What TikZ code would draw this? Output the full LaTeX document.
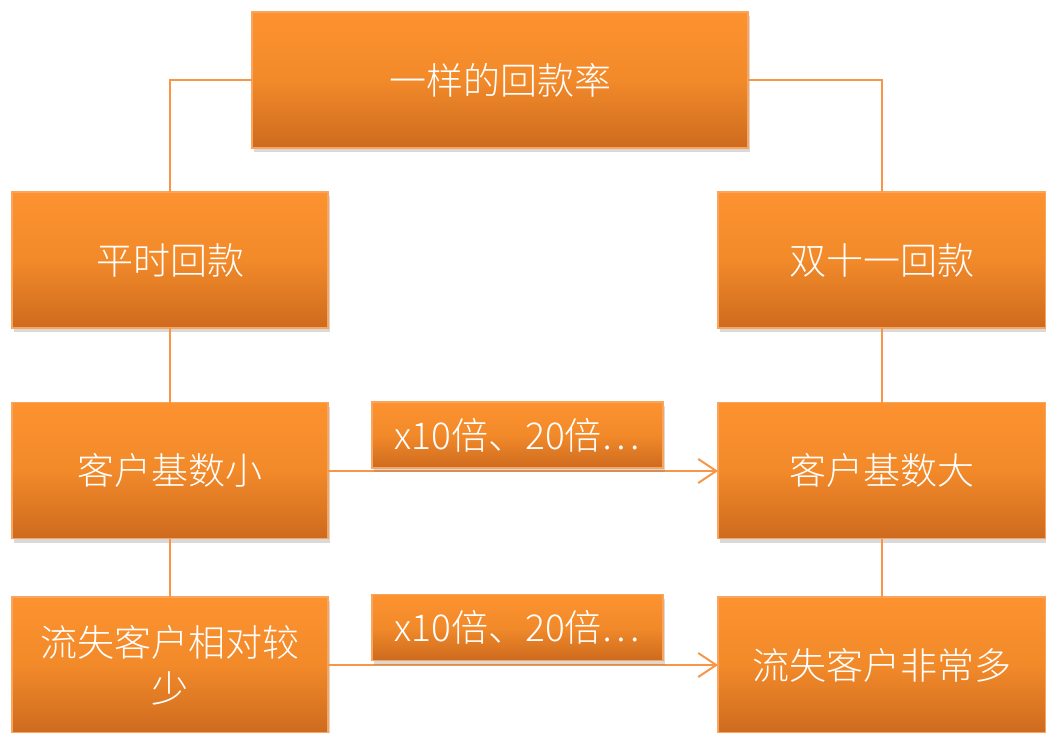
\documentclass[tikz,border=0pt]{standalone}
\usepackage{fontspec}
\newfontfamily\cjk{Noto Sans CJK SC}[UprightFont={* Light}]
\usetikzlibrary{arrows.meta,shadows}
\definecolor{boxtop}{HTML}{FD922F}
\definecolor{boxmid}{HTML}{F28A2A}
\definecolor{boxbot}{HTML}{CD6A1E}
\definecolor{boxedge}{HTML}{F9A55E}
\definecolor{linecol}{HTML}{F79646}
\tikzset{
  obox/.style={draw=boxedge, line width=1.5pt, top color=boxtop, bottom color=boxbot, middle color=boxmid,
    text=white, font=\cjk\fontsize{37}{46}\selectfont, align=center,
    inner sep=0pt, outer sep=0pt,
    drop shadow={opacity=0.3, shadow xshift=2pt, shadow yshift=-4pt}},
  conn/.style={draw=linecol, line width=2pt},
  arr/.style={conn, -{Straight Barb[length=18pt,width=24pt,line width=2pt]}}
}
\begin{document}
\begin{tikzpicture}[x=1pt,y=-1pt]
\useasboundingbox (0,0) rectangle (1046,733);
% nodes
\node[obox, minimum width=496pt, minimum height=136pt] (top) at (500,80) {一样的回款率};
\node[obox, minimum width=316pt, minimum height=136pt] (ps) at (170,260) {平时回款};
\node[obox, minimum width=328pt, minimum height=136pt] (ss) at (882,260) {双十一回款};
\node[obox, minimum width=316pt, minimum height=136pt] (xiao) at (170,470.5) {客户基数小};
\node[obox, minimum width=328pt, minimum height=136pt] (da) at (882,470.5) {客户基数大};
\node[obox, minimum width=316pt, minimum height=136pt] (ls1) at (170,665) {流失客户相对较\\少};
\node[obox, minimum width=328pt, minimum height=136pt] (ls2) at (882,665) {流失客户非常多};
% connectors
\draw[conn] (top.west) -| (ps.north);
\draw[conn] (top.east) -| (ss.north);
\draw[conn] (ps.south) -- (xiao.north);
\draw[conn] (xiao.south) -- (ls1.north);
\draw[conn] (ss.south) -- (da.north);
\draw[conn] (da.south) -- (ls2.north);
\coordinate (a1s) at (xiao.east |- 0,471);
\coordinate (a1e) at (da.west |- 0,471);
\coordinate (a2s) at (ls1.east |- 0,665);
\coordinate (a2e) at (ls2.west |- 0,665);
\draw[arr] (a1s) -- (a1e);
\draw[arr] (a2s) -- (a2e);
% label boxes
\node[obox, minimum width=291pt, minimum height=66pt] (l1) at (517.5,435) {x10倍、20倍…};
\node[obox, minimum width=291pt, minimum height=66pt] (l2) at (517.5,627.5) {x10倍、20倍…};
\end{tikzpicture}
\end{document}
